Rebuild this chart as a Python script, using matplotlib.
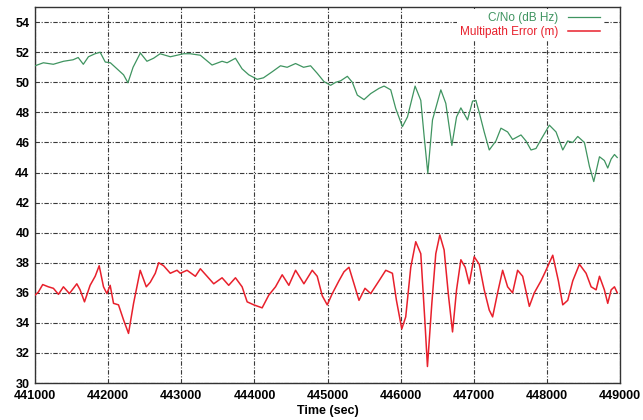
import matplotlib
matplotlib.use("Agg")
import matplotlib.pyplot as plt

plt.rcParams["font.family"] = ["Liberation Sans", "DejaVu Sans"]

# C/No track (time in s, dB Hz)
cno_t = [441000, 441114, 441250, 441390, 441520, 441590, 441660, 441730, 441820, 441890,
         441960, 442030, 442120, 442210, 442270, 442340, 442440, 442530, 442620, 442710,
         442850, 442940, 443030, 443123, 443260, 443420, 443557, 443626, 443740, 443830,
         443922, 444037, 444123, 444242, 444356, 444447, 444562, 444671, 444767, 444858,
         444950, 445041, 445110, 445178, 445270, 445338, 445406, 445498, 445589, 445703,
         445772, 445863, 445932, 446023, 446092, 446196, 446274, 446320, 446370, 446434,
         446548, 446616, 446699, 446763, 446822, 446913, 446982, 447027, 447073, 447141,
         447210, 447301, 447370, 447461, 447529, 447644, 447712, 447781, 447849, 447918,
         448032, 448123, 448215, 448283, 448352, 448420, 448511, 448580, 448639, 448717,
         448784, 448830, 448877, 448922, 448960]
cno_v = [51.1, 51.3, 51.2, 51.4, 51.5, 51.65, 51.2, 51.7, 51.9, 52.0,
         51.35, 51.3, 50.9, 50.5, 49.97, 51.0, 51.95, 51.4, 51.6, 51.9,
         51.7, 51.8, 51.9, 51.9, 51.8, 51.15, 51.4, 51.3, 51.6, 50.9,
         50.5, 50.2, 50.3, 50.7, 51.1, 51.0, 51.25, 51.0, 51.1, 50.6,
         50.05, 49.8, 50.0, 50.1, 50.4, 50.0, 49.15, 48.85, 49.25, 49.6,
         49.75, 49.5, 48.25, 47.05, 47.7, 49.75, 48.8, 46.4, 43.95, 47.5,
         49.5, 48.6, 45.8, 47.7, 48.3, 47.5, 48.75, 48.8, 48.0, 46.7,
         45.5, 46.1, 46.95, 46.7, 46.2, 46.5, 46.1, 45.5, 45.6, 46.2,
         47.15, 46.7, 45.5, 46.1, 46.0, 46.4, 46.0, 44.4, 43.4, 45.05,
         44.8, 44.3, 44.9, 45.2, 45.0]

# multipath error (m)
mp_t = [441000, 441045, 441105, 441182, 441251, 441320, 441388, 441470, 441571, 441616,
        441676, 441753, 441822, 441877, 441936, 441982, 442027, 442073, 442141, 442210,
        442278, 442347, 442438, 442521, 442575, 442644, 442690, 442758, 442849, 442941,
        442986, 443078, 443192, 443260, 443352, 443443, 443557, 443648, 443740, 443831,
        443900, 443991, 444105, 444196, 444288, 444379, 444470, 444562, 444676, 444790,
        444858, 444927, 444995, 445064, 445155, 445224, 445292, 445361, 445429, 445511,
        445589, 445703, 445795, 445886, 445941, 446014, 446068, 446137, 446205, 446274,
        446329, 446365, 446425, 446479, 446534, 446593, 446653, 446708, 446763, 446822,
        446881, 446936, 447004, 447073, 447141, 447210, 447256, 447324, 447393, 447461,
        447529, 447598, 447667, 447758, 447826, 447918, 447986, 448078, 448155, 448215,
        448283, 448352, 448443, 448534, 448603, 448671, 448717, 448784, 448830, 448877,
        448922, 448960]
mp_v = [35.85, 36.05, 36.55, 36.4, 36.3, 35.9, 36.4, 35.95, 36.6, 36.2,
        35.4, 36.5, 37.1, 37.8, 36.4, 35.95, 36.5, 35.3, 35.2, 34.2,
        33.3, 35.3, 37.5, 36.4, 36.7, 37.3, 38.0, 37.8, 37.3, 37.5,
        37.3, 37.5, 37.1, 37.6, 37.1, 36.6, 37.0, 36.5, 37.0, 36.4,
        35.4, 35.2, 35.0, 35.85, 36.4, 37.2, 36.5, 37.5, 36.6, 37.5,
        37.1, 35.8, 35.2, 35.95, 36.8, 37.4, 37.7, 36.6, 35.5, 36.3,
        35.95, 36.8, 37.5, 37.3, 35.5, 33.6, 34.4, 37.7, 39.4, 38.6,
        34.2, 31.1, 35.3, 38.6, 39.85, 38.85, 35.8, 33.4, 36.2, 38.2,
        37.7, 36.6, 38.4, 37.9, 36.2, 34.85, 34.4, 36.0, 37.5, 36.4,
        36.0, 37.5, 37.1, 35.1, 36.0, 36.8, 37.5, 38.5, 36.8, 35.2,
        35.5, 36.8, 37.9, 37.3, 36.4, 36.2, 37.1, 36.2, 35.3, 36.2,
        36.4, 36.0]

x_ticks = list(range(441000, 449001, 1000))
y_ticks = list(range(30, 55, 2))

GREEN = "#3f9460"
RED = "#e8202c"
GRIDC = "#3a3a3a"

fig = plt.figure(figsize=(6.43, 4.20), dpi=100)
ax = fig.add_axes([0.0545, 0.088, 0.910, 0.895])

ax.plot(cno_t, cno_v, color=GREEN, lw=0.9, label="C/No (dB Hz)", zorder=3)
ax.plot(mp_t, mp_v, color=RED, lw=1.1, label="Multipath Error (m)", zorder=3)

ax.set_xlim(441000, 449000)
ax.set_ylim(30, 55)
ax.set_xticks(x_ticks)
ax.set_yticks(y_ticks)
ax.tick_params(axis="both", length=0, labelsize=9)
ax.tick_params(axis="x", pad=5)
ax.tick_params(axis="y", pad=4)
for lab in ax.get_xticklabels() + ax.get_yticklabels():
    lab.set_fontweight("bold")
ax.grid(True, color=GRIDC, lw=0.8, linestyle=(0, (4, 1.5, 1, 1.5)), zorder=1)
for sp in ax.spines.values():
    sp.set_color("#333333")
    sp.set_linewidth(1.0)

ax.set_xlabel("Time (sec)", fontsize=9, fontweight="bold", labelpad=2)

leg = ax.legend(loc="upper right", bbox_to_anchor=(0.97, 0.995), markerfirst=False,
                frameon=True, fontsize=8.5, handlelength=2.7, handletextpad=0.8,
                borderaxespad=0.0, borderpad=0.25, labelspacing=0.2,
                labelcolor="linecolor", fancybox=False)
leg.get_frame().set_edgecolor("none")
leg.get_frame().set_facecolor("white")
leg.get_frame().set_alpha(1.0)

fig.savefig("out.png", dpi=100, facecolor="white")
